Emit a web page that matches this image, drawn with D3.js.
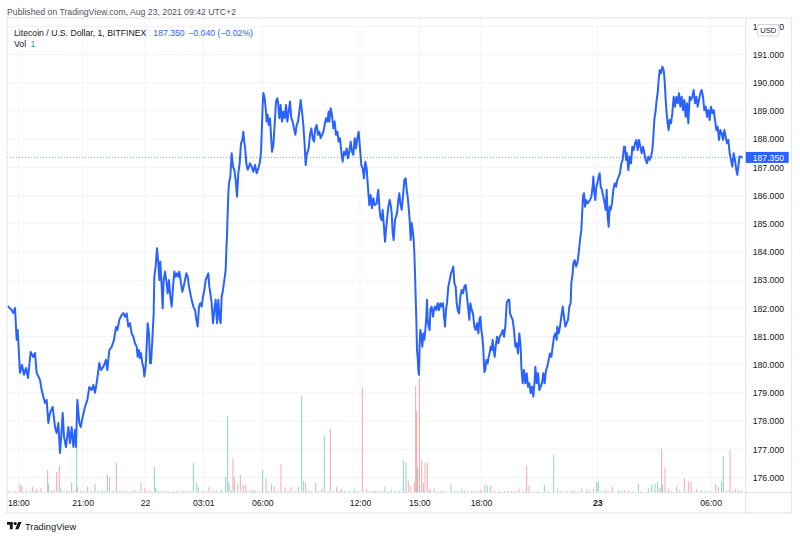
<!DOCTYPE html>
<html><head><meta charset="utf-8">
<script src="https://cdn.jsdelivr.net/npm/d3@7"></script>
<style>
body{margin:0;background:#fff}
svg{display:block}
text{font-family:"Liberation Sans",Arial,sans-serif}
</style>
</head><body>
<svg id="c" width="800" height="539"></svg>
<script>
// ---- DATA ----
// [bar index (1-minute bars from the chart's left edge), close price]
const priceSeries = [
[1,182.06],[11,181.94],[16,181.83],[21,182.01],[26,180.88],[29,181.23],[36,179.71],[42,179.99],[48,179.64],[54,179.88],
[60,179.53],[68,180.45],[76,180.27],[81,180.42],[86,179.71],[96,179.46],[101,179.10],[106,178.86],[111,178.64],[116,178.75],
[121,177.93],[126,178.29],[134,178.50],[141,177.79],[146,177.58],[151,177.93],[156,176.87],[161,177.69],[164,178.29],[168,177.44],
[174,177.08],[181,177.79],[186,177.22],[191,177.79],[196,177.08],[201,177.69],[204,177.08],[208,178.75],[214,177.93],[218,177.79],
[224,178.15],[231,178.50],[238,178.75],[244,179.21],[251,179.10],[256,179.28],[261,179.00],[266,179.35],[274,180.06],[279,179.81],
[286,179.92],[294,180.17],[298,179.81],[304,180.52],[311,180.63],[318,180.88],[324,181.34],[328,181.23],[334,181.59],[341,181.76],
[346,181.83],[351,181.70],[356,181.82],[361,181.35],[366,181.47],[371,181.11],[376,180.99],[381,180.76],[386,180.64],[389,180.28],
[393,180.52],[396,180.23],[399,180.41],[403,180.05],[406,179.93],[409,179.58],[413,179.93],[416,180.64],[419,181.47],[423,181.11],
[426,180.05],[429,180.05],[433,180.88],[437,181.82],[439,183.12],[443,183.48],[447,184.13],[451,183.60],[454,183.00],[457,183.65],
[461,182.77],[464,182.00],[467,183.00],[471,183.30],[476,182.89],[479,182.53],[483,183.00],[487,182.41],[491,182.06],[496,182.89],
[499,183.30],[503,183.12],[507,183.24],[511,183.12],[514,183.30],[519,182.89],[523,182.59],[527,182.77],[531,183.00],[535,183.24],
[539,183.12],[543,182.77],[547,182.53],[551,182.30],[556,182.06],[561,181.94],[565,181.59],[569,181.35],[573,182.06],[577,182.18],
[581,182.06],[585,182.41],[589,182.65],[593,183.00],[597,183.12],[601,183.24],[604,182.77],[607,182.53],[611,182.18],[615,181.47],
[619,181.94],[623,182.30],[627,181.47],[631,182.30],[635,181.59],[638,181.47],[641,182.41],[645,182.65],[649,183.00],[653,183.36],
[655,184.07],[657,184.54],[659,185.37],[661,186.08],[663,186.43],[667,186.67],[671,187.50],[675,187.02],[679,186.91],[683,186.55],
[687,185.96],[691,186.79],[695,187.14],[699,187.85],[703,187.97],[706,188.26],[709,187.85],[711,187.73],[715,187.14],[719,186.91],
[723,187.02],[726,187.14],[731,187.02],[736,186.84],[741,187.08],[746,186.79],[751,186.96],[756,187.20],[759,187.55],[762,188.50],
[764,189.21],[766,189.63],[770,189.45],[774,188.97],[776,188.62],[779,188.86],[782,188.50],[786,188.74],[789,188.15],[792,187.55],
[796,187.79],[800,188.50],[804,189.33],[808,189.45],[811,189.21],[814,188.74],[818,189.21],[822,188.62],[826,188.97],[830,188.74],
[834,189.21],[838,188.62],[842,188.97],[846,189.33],[850,188.74],[854,188.62],[858,188.38],[862,188.15],[866,188.50],[870,188.62],
[874,188.97],[878,189.39],[882,188.97],[886,188.50],[890,187.79],[893,187.08],[896,187.44],[899,187.55],[902,187.67],[906,188.15],
[910,188.38],[914,188.03],[918,187.91],[922,188.38],[926,188.50],[930,188.15],[934,188.26],[938,188.03],[942,188.15],[946,188.26],
[950,188.50],[954,188.74],[958,188.62],[962,188.97],[964,188.62],[968,189.09],[972,188.86],[976,188.38],[980,188.62],[984,188.15],
[988,188.26],[992,187.91],[996,188.03],[1000,187.55],[1004,187.20],[1008,187.55],[1012,187.44],[1016,187.67],[1020,187.32],[1024,187.55],
[1028,187.91],[1032,187.55],[1036,187.44],[1040,188.03],[1044,187.67],[1048,188.03],[1052,188.26],[1056,187.67],[1060,187.08],[1064,186.96],
[1068,186.61],[1072,187.20],[1076,186.96],[1080,186.26],[1084,185.66],[1088,186.02],[1092,185.55],[1096,185.90],[1100,185.66],[1106,185.72],
[1109,186.08],[1111,186.20],[1114,185.60],[1117,185.25],[1121,185.13],[1124,185.49],[1127,185.02],[1131,184.36],[1134,184.78],[1137,185.13],
[1141,185.60],[1145,185.84],[1149,185.60],[1151,185.37],[1154,184.66],[1157,184.42],[1161,185.13],[1164,185.25],[1167,185.37],[1171,185.84],
[1174,186.08],[1177,185.72],[1181,185.49],[1185,185.96],[1189,186.55],[1193,186.61],[1196,186.20],[1199,185.96],[1201,185.72],[1205,185.13],
[1208,184.42],[1211,185.02],[1214,184.78],[1217,184.42],[1219,183.95],[1221,183.24],[1223,182.41],[1225,181.59],[1227,180.52],[1229,180.28],
[1231,179.81],[1233,179.64],[1235,180.76],[1237,181.23],[1240,180.99],[1243,180.64],[1246,181.11],[1249,180.88],[1252,181.23],[1255,181.70],
[1257,182.30],[1259,181.59],[1262,181.35],[1265,181.23],[1267,181.94],[1271,182.06],[1275,181.70],[1278,181.94],[1281,182.06],[1285,181.94],
[1289,182.18],[1293,181.94],[1297,182.18],[1301,182.06],[1305,182.18],[1308,181.70],[1311,181.35],[1314,181.94],[1317,182.18],[1321,182.77],
[1325,183.00],[1329,183.24],[1333,183.36],[1336,183.48],[1339,182.89],[1343,182.77],[1346,182.18],[1349,181.94],[1353,181.82],[1357,182.41],
[1361,182.65],[1365,182.53],[1369,182.77],[1373,182.83],[1377,182.41],[1381,181.94],[1384,181.59],[1387,182.18],[1391,181.94],[1395,181.82],
[1399,181.35],[1403,181.23],[1407,181.47],[1411,181.11],[1414,181.59],[1417,181.70],[1420,181.23],[1423,180.99],[1426,180.52],[1429,179.74],
[1432,179.81],[1435,180.17],[1439,180.05],[1442,180.28],[1445,180.41],[1448,180.64],[1451,180.52],[1454,180.88],[1457,180.52],[1460,180.28],
[1463,180.64],[1467,180.99],[1471,180.76],[1475,180.99],[1481,181.11],[1484,181.23],[1488,180.99],[1492,181.35],[1496,182.18],[1500,182.30],
[1504,182.30],[1506,181.82],[1510,181.70],[1514,181.59],[1518,181.23],[1522,180.64],[1526,180.76],[1530,180.40],[1534,181.11],[1538,180.64],
[1540,179.93],[1544,179.34],[1548,179.81],[1552,179.34],[1556,179.70],[1560,179.22],[1564,179.34],[1568,178.99],[1572,179.22],[1576,178.87],
[1580,179.46],[1582,179.93],[1586,179.34],[1590,179.70],[1594,179.10],[1598,179.22],[1602,179.34],[1606,179.70],[1610,179.34],[1614,179.81],
[1618,179.93],[1622,180.17],[1626,180.40],[1630,180.28],[1634,180.64],[1638,180.99],[1642,181.11],[1646,180.88],[1648,181.35],[1652,181.11],
[1656,181.35],[1660,181.70],[1664,182.06],[1668,181.70],[1672,181.35],[1676,181.47],[1680,181.59],[1684,182.06],[1688,182.18],[1690,182.89],
[1694,183.24],[1696,183.60],[1700,183.71],[1704,183.48],[1708,183.60],[1712,183.95],[1716,184.42],[1720,184.78],[1722,185.25],[1725,185.96],
[1728,186.08],[1731,185.60],[1734,185.84],[1738,185.72],[1742,185.78],[1746,185.84],[1750,185.96],[1754,186.31],[1756,186.67],[1759,186.08],
[1762,185.84],[1765,186.31],[1768,186.43],[1772,186.67],[1775,186.79],[1778,186.31],[1782,186.20],[1786,185.96],[1790,185.72],[1793,185.49],
[1796,186.20],[1799,185.25],[1802,184.89],[1805,185.60],[1808,185.49],[1812,185.72],[1816,186.20],[1820,186.43],[1824,186.31],[1828,186.55],
[1832,186.67],[1836,186.79],[1840,187.14],[1844,187.26],[1848,187.73],[1851,187.73],[1854,187.26],[1857,187.50],[1861,186.90],[1865,187.38],
[1869,187.14],[1873,187.73],[1877,187.61],[1881,187.85],[1885,187.97],[1889,187.61],[1893,187.97],[1897,187.73],[1901,187.50],[1905,187.73],
[1909,187.50],[1913,187.26],[1917,187.14],[1921,187.38],[1925,187.26],[1929,187.38],[1933,187.61],[1936,188.08],[1939,188.68],[1943,189.03],
[1946,189.39],[1949,189.63],[1952,190.10],[1955,190.45],[1959,190.33],[1963,190.57],[1967,190.45],[1969,190.21],[1971,189.86],[1973,189.39],
[1976,188.92],[1979,188.56],[1982,188.32],[1985,188.68],[1989,188.56],[1993,188.92],[1997,189.50],[2001,189.15],[2005,189.50],[2009,189.27],
[2013,189.63],[2017,189.15],[2021,189.50],[2025,189.03],[2029,189.39],[2033,188.79],[2037,189.27],[2041,188.56],[2045,189.50],[2049,189.39],
[2053,189.50],[2057,189.74],[2061,189.27],[2065,189.50],[2069,189.15],[2073,189.39],[2077,189.63],[2081,189.74],[2085,189.50],[2089,189.03],
[2093,189.15],[2097,188.79],[2101,189.03],[2105,188.68],[2109,189.15],[2113,188.92],[2117,189.03],[2121,188.68],[2125,188.32],[2129,188.44],
[2133,187.97],[2137,188.32],[2141,188.21],[2145,187.97],[2149,188.32],[2153,188.08],[2157,187.85],[2161,187.97],[2165,187.50],[2169,187.26],
[2173,187.02],[2177,187.50],[2181,187.26],[2185,186.90],[2188,186.73],[2191,187.02],[2194,187.38],[2197,187.38],[2201,187.35]
];

// [bar index, volume, 1 = up bar / 0 = down bar]
const volumeBars = [
[36,87,0],[41,70,0],[73,60,0],[86,37,0],[99,50,0],[119,227,0],[121,87,1],[146,207,0],[154,270,0],[159,40,1],
[191,103,1],[206,487,1],[209,60,0],[239,60,1],[261,87,1],[298,180,0],[304,153,1],[325,303,0],[346,20,1],[399,103,0],
[411,47,0],[439,260,1],[443,53,1],[461,20,0],[524,25,0],[556,300,1],[566,103,1],[571,53,1],[603,60,0],[653,153,1],
[659,770,1],[663,100,1],[675,337,0],[679,153,0],[689,87,1],[697,180,0],[706,77,0],[713,80,0],[731,30,0],[764,227,1],
[774,147,0],[791,87,1],[799,60,0],[819,280,0],[831,57,0],[849,60,0],[871,60,0],[881,970,1],[887,120,1],[893,100,0],
[923,100,1],[941,40,0],[949,570,1],[967,637,0],[986,60,0],[1001,35,0],[1039,35,1],[1063,1060,0],[1076,35,0],[1101,20,1],
[1131,60,1],[1186,327,1],[1194,300,1],[1201,120,0],[1208,70,0],[1219,103,0],[1223,1070,0],[1226,820,0],[1229,250,1],[1234,1150,0],
[1241,330,0],[1246,100,0],[1251,300,0],[1258,300,0],[1266,40,0],[1279,40,0],[1329,87,1],[1361,30,1],[1369,25,1],[1419,30,0],
[1431,80,1],[1438,70,1],[1448,70,0],[1473,20,1],[1501,20,1],[1533,35,0],[1556,270,0],[1563,70,0],[1609,80,1],[1637,380,1],
[1649,35,0],[1691,25,0],[1721,40,0],[1736,35,1],[1756,40,0],[1766,100,1],[1771,113,1],[1791,35,0],[1813,60,0],[1831,25,1],
[1861,25,0],[1891,87,1],[1921,40,1],[1931,80,1],[1941,87,1],[1949,113,1],[1956,50,1],[1961,437,0],[1964,80,1],[1971,247,0],
[1981,35,0],[2006,60,0],[2029,147,0],[2041,113,0],[2049,113,0],[2066,35,0],[2123,87,0],[2131,60,0],[2141,113,1],[2146,370,1],
[2166,427,0],[2183,40,0],[2191,30,0],
[5,20,1],[20,15,0],[55,25,0],[64,15,1],[80,20,1],[92,15,0],[130,20,1],[138,30,0],[165,15,0],[175,20,1],
[183,15,0],[198,25,0],[218,20,1],[228,15,0],[250,20,0],[270,15,1],[283,25,0],[290,15,1],[315,20,0],[335,15,1],
[355,20,0],[370,15,0],[380,25,1],[390,15,1],[420,20,0],[430,15,1],[450,25,0],[470,15,0],[480,20,1],[495,15,0],
[505,20,1],[515,15,0],[535,20,1],[545,15,0],[585,20,0],[595,15,1],[615,20,0],[625,25,1],[640,30,0],[670,25,1],
[720,20,1],[740,25,0],[750,15,1],[780,20,0],[810,15,1],[840,20,0],[860,15,1],[900,25,1],[910,15,0],[930,20,0],
[960,15,1],[975,20,0],[995,15,1],[1010,20,0],[1025,15,1],[1050,20,0],[1085,15,1],[1095,20,0],[1110,15,0],[1120,20,1],
[1140,15,0],[1150,25,1],[1160,15,0],[1175,20,1],[1265,20,1],[1290,15,0],[1300,20,1],[1310,15,0],[1340,20,0],[1350,15,1],
[1380,20,1],[1390,15,0],[1400,20,0],[1410,15,1],[1460,20,0],[1490,15,1],[1510,20,0],[1520,15,1],[1545,20,0],[1575,15,1],
[1590,20,0],[1620,15,1],[1660,20,0],[1675,15,1],[1700,20,0],[1710,15,1],[1745,20,0],[1780,15,1],[1800,20,0],[1840,15,1],
[1850,20,0],[1875,15,1],[1900,20,0],[1990,15,1],[2015,20,0],[2055,15,1],[2080,20,0],[2090,15,1],[2100,20,0],[2110,15,1],
[2155,20,0],[2175,15,1],[2200,20,0]
];

const priceTicks = [176,177,178,179,180,181,182,183,184,185,186,187,188,189,190,191,192];
const timeTickBars = [31,224,411,586,763,1056,1234,1419,1768,2108];
const timeTickLabels = ["18:00","21:00","22","03:01","06:00","12:00","15:00","18:00","23","06:00"];
const boldTimeLabels = ["23"];
const lastPrice = 187.35;
const headerText = "Published on TradingView.com, Aug 23, 2021 09:42 UTC+2";
const symbolText = "Litecoin / U.S. Dollar, 1, BITFINEX";
const lastValueText = "187.350";
const changeText = "\u22120.040 (\u22120.02%)";
const volLabel = "Vol";
const volValueText = "1";

// ---- LAYOUT ----
const pane = {l:7, r:745.7, t:18, b:492.7};
const axisRight = 791.7, timeBottom = 513;
const lineColor = "#2962ff", gridColor = "#f0f3fa", borderColor = "#e0e3eb", textColor = "#131722";
const fs = 8.7;

const svg = d3.select("#c");
const x = d3.scaleLinear().domain([0, 2214]).range([8, 746]);
const y = d3.scaleLinear().domain([175.46, 192.294]).range([pane.b, pane.t]);
const v = d3.scaleLinear().domain([0, 1150]).range([pane.b, 377.7]);

svg.append("rect").attr("width",800).attr("height",539).attr("fill","#fff");

svg.append("defs").append("clipPath").attr("id","pc")
  .append("rect").attr("x",pane.l).attr("y",pane.t).attr("width",pane.r-pane.l).attr("height",pane.b-pane.t);

// grid
const grid = svg.append("g").attr("stroke",gridColor).attr("stroke-width",1);
grid.selectAll(".h").data(priceTicks).join("line")
  .attr("x1",pane.l).attr("x2",pane.r).attr("y1",d=>y(d)).attr("y2",d=>y(d));
grid.selectAll(".v").data(timeTickBars).join("line")
  .attr("y1",pane.t).attr("y2",pane.b).attr("x1",d=>x(d)).attr("x2",d=>x(d));

const plot = svg.append("g").attr("clip-path","url(#pc)");

// volume
plot.append("g").selectAll("rect").data(volumeBars).join("rect")
  .attr("x",d=>x(d[0])-0.5).attr("width",1)
  .attr("y",d=>v(d[1])).attr("height",d=>pane.b-v(d[1]))
  .attr("fill",d=>d[2]? "rgba(38,166,154,0.5)":"rgba(239,83,80,0.5)");

// price line
plot.append("path").datum(priceSeries)
  .attr("fill","none").attr("stroke",lineColor).attr("stroke-width",2)
  .attr("stroke-linejoin","round").attr("stroke-linecap","round")
  .attr("d", d3.line().x(d=>x(d[0])).y(d=>y(d[1])));

// last price dotted line
svg.append("line").attr("x1",pane.l).attr("x2",pane.r)
  .attr("y1",y(lastPrice)).attr("y2",y(lastPrice))
  .attr("stroke",lineColor).attr("stroke-width",1).attr("stroke-dasharray","1,2").attr("opacity",0.6);

// borders
const b = svg.append("g").attr("stroke",borderColor).attr("fill","none").attr("stroke-width",1);
b.append("rect").attr("x",pane.l).attr("y",pane.t).attr("width",axisRight-pane.l).attr("height",timeBottom-pane.t);
b.append("line").attr("x1",pane.r).attr("x2",pane.r).attr("y1",pane.t).attr("y2",timeBottom);
b.append("line").attr("x1",pane.l).attr("x2",axisRight).attr("y1",pane.b).attr("y2",pane.b);

// price axis
const ya = svg.append("g").attr("transform",`translate(${pane.r},0)`)
  .call(d3.axisRight(y).tickValues(priceTicks).tickSize(0).tickPadding(7).tickFormat(d3.format(".3f")));
ya.select(".domain").remove();
ya.selectAll("text").attr("fill",textColor).style("font-size",fs+"px").style("font-family",'"Liberation Sans",Arial,sans-serif');

// time axis
const xa = svg.append("g").attr("transform",`translate(0,${pane.b})`)
  .call(d3.axisBottom(x).tickValues(timeTickBars).tickSize(0).tickPadding(7).tickFormat((d,i)=>timeTickLabels[i]));
xa.select(".domain").remove();
xa.selectAll("text").attr("fill",textColor).style("font-size",fs+"px").style("font-family",'"Liberation Sans",Arial,sans-serif')
  .style("font-weight",(d,i)=>boldTimeLabels.includes(timeTickLabels[i])?"bold":"normal");

// last price label
const ly = y(lastPrice);
svg.append("rect").attr("x",pane.r).attr("y",ly-5.5).attr("width",43).attr("height",11).attr("fill",lineColor);
svg.append("text").attr("x",pane.r+7).attr("y",ly+3.2).attr("fill","#fff").style("font-size",fs+"px").text(lastValueText);

// USD badge
svg.append("rect").attr("x",757.5).attr("y",24.5).attr("width",21.5).attr("height",11.5).attr("rx",2)
  .attr("fill","#fff").attr("stroke","#d1d4dc");
svg.append("text").attr("x",768.2).attr("y",33.2).attr("text-anchor","middle").attr("fill",textColor)
  .style("font-size","7.6px").text("USD");

// header & legend
svg.append("text").attr("x",7).attr("y",15.3).attr("fill","#50535e").style("font-size",fs+"px").text(headerText);
svg.append("text").attr("x",14).attr("y",35.5).attr("fill",textColor).style("font-size",fs+"px").text(symbolText);
svg.append("text").attr("x",153.3).attr("y",35.5).attr("fill",lineColor).style("font-size",fs+"px").text(lastValueText);
svg.append("text").attr("x",188.3).attr("y",35.5).attr("fill",lineColor).style("font-size",fs+"px").text(changeText);
svg.append("text").attr("x",14).attr("y",46.5).attr("fill",textColor).style("font-size",fs+"px").text(volLabel);
svg.append("text").attr("x",30.5).attr("y",46.5).attr("fill","#26a69a").style("font-size",fs+"px").text(volValueText);

// TradingView logo
const logo = svg.append("g").attr("transform","translate(7,520.3) scale(0.41)").attr("fill",textColor);
logo.append("path").attr("d","M14 22H7V11H0V4h14v18zM28 22h-8l7.5-18h8L28 22z");
logo.append("circle").attr("cx",20).attr("cy",8).attr("r",4);
svg.append("text").attr("x",25).attr("y",529.6).attr("fill",textColor).style("font-size","9.3px").text("TradingView");
</script>
</body></html>
